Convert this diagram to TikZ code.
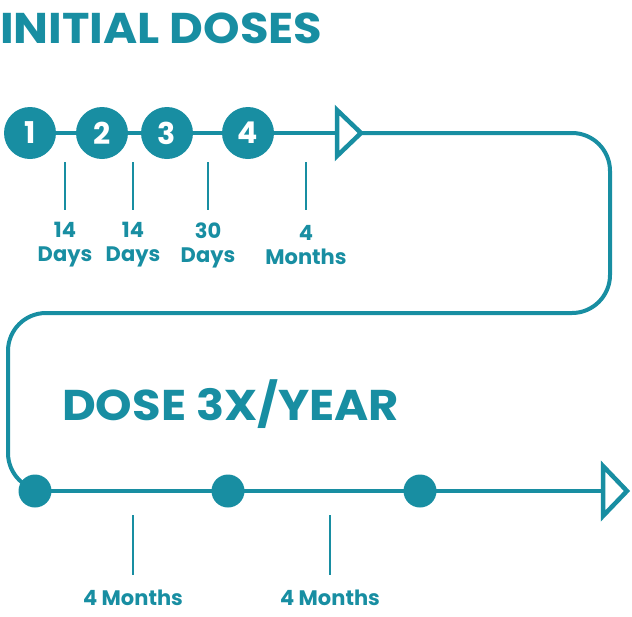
\documentclass[tikz,border=0pt]{standalone}
\usepackage{fontspec}
\setmainfont{Poppins}
\definecolor{teal1}{RGB}{24,142,162}
\begin{document}
\begin{tikzpicture}[x=1pt,y=-1pt,
  ln/.style={draw=teal1,line width=4.5pt},
  tk/.style={draw=teal1,line width=1.2pt},
  num/.style={circle,fill=teal1,minimum size=52pt,inner sep=0,text=white,font=\bfseries\fontsize{30}{30}\selectfont},
  dot/.style={circle,fill=teal1,minimum size=33pt,inner sep=0},
  lab/.style={text=teal1,font=\bfseries\fontsize{21}{24}\selectfont,align=center},
  ttl/.style={text=teal1,font=\bfseries\fontsize{43}{43}\selectfont,anchor=west,inner sep=0,xscale=1.08}]
\useasboundingbox (0,0) rectangle (632,616);
\node[ttl] (t1) at (0,28) {INITIAL DOSES};
\node[ttl] (t2) at (62,404) {DOSE 3X/YEAR};
\coordinate (a0) at (30,133);
\coordinate (a1) at (337,133);
\draw[ln] (a0) -- (a1);
\node[num] (n1) at (30,133) {1};
\node[num] (n2) at (102,133) {2};
\node[num] (n3) at (167,133) {3};
\node[num] (n4) at (248,133) {4};
\coordinate (tr1) at (361,133);
\draw[ln,fill=white,line join=miter] (337,110) -- (tr1) -- (337,156) -- cycle;
\draw[tk,line width=4pt,rounded corners=38pt] (tr1) -- (610,133) -- (610,313) -- (8,313) -- (8,491) -- (35,491);
\coordinate (b0) at (35,491);
\coordinate (b1) at (603,491);
\draw[ln] (b0) -- (b1);
\draw[ln,fill=white,line join=miter] (603,466) -- (627,491) -- (603,516) -- cycle;
\node[dot] (d1) at (35,491) {};
\node[dot] (d2) at (228,491) {};
\node[dot] (d3) at (420,491) {};
\foreach \x/\t in {65/14\\Days,133/14\\Days,208/30\\Days,306/4\\Months}{
  \draw[tk] (\x,162) -- (\x,210);
  \node[lab] at (\x,245) {\t};
}
\foreach \x in {133,330}{
  \draw[tk] (\x,515) -- (\x,575);
  \node[lab] at (\x,598) {4 Months};
}
\end{tikzpicture}
\end{document}
